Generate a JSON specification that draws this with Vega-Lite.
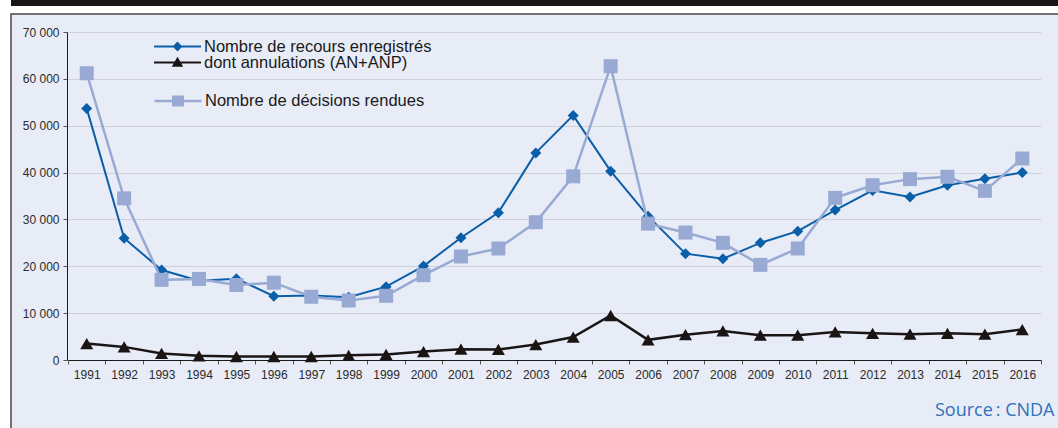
{
  "$schema": "https://vega.github.io/schema/vega-lite/v6.json",
  "background": "white",
  "padding": {"left": 10, "top": 0, "right": 0, "bottom": 0},
  "spacing": 7,
  "config": {"font": "Liberation Sans", "legend": {"labelLimit": 0}},
  "datasets": {
    "d": [
      {"annee": 1991, "serie": "Nombre de recours enregistrés", "valeur": 53700},
      {"annee": 1992, "serie": "Nombre de recours enregistrés", "valeur": 26000},
      {"annee": 1993, "serie": "Nombre de recours enregistrés", "valeur": 19200},
      {"annee": 1994, "serie": "Nombre de recours enregistrés", "valeur": 16900},
      {"annee": 1995, "serie": "Nombre de recours enregistrés", "valeur": 17350},
      {"annee": 1996, "serie": "Nombre de recours enregistrés", "valeur": 13600},
      {"annee": 1997, "serie": "Nombre de recours enregistrés", "valeur": 13750},
      {"annee": 1998, "serie": "Nombre de recours enregistrés", "valeur": 13400},
      {"annee": 1999, "serie": "Nombre de recours enregistrés", "valeur": 15650},
      {"annee": 2000, "serie": "Nombre de recours enregistrés", "valeur": 20050},
      {"annee": 2001, "serie": "Nombre de recours enregistrés", "valeur": 26100},
      {"annee": 2002, "serie": "Nombre de recours enregistrés", "valeur": 31450},
      {"annee": 2003, "serie": "Nombre de recours enregistrés", "valeur": 44200},
      {"annee": 2004, "serie": "Nombre de recours enregistrés", "valeur": 52200},
      {"annee": 2005, "serie": "Nombre de recours enregistrés", "valeur": 40300},
      {"annee": 2006, "serie": "Nombre de recours enregistrés", "valeur": 30700},
      {"annee": 2007, "serie": "Nombre de recours enregistrés", "valeur": 22700},
      {"annee": 2008, "serie": "Nombre de recours enregistrés", "valeur": 21600},
      {"annee": 2009, "serie": "Nombre de recours enregistrés", "valeur": 25000},
      {"annee": 2010, "serie": "Nombre de recours enregistrés", "valeur": 27500},
      {"annee": 2011, "serie": "Nombre de recours enregistrés", "valeur": 32000},
      {"annee": 2012, "serie": "Nombre de recours enregistrés", "valeur": 36200},
      {"annee": 2013, "serie": "Nombre de recours enregistrés", "valeur": 34800},
      {"annee": 2014, "serie": "Nombre de recours enregistrés", "valeur": 37300},
      {"annee": 2015, "serie": "Nombre de recours enregistrés", "valeur": 38700},
      {"annee": 2016, "serie": "Nombre de recours enregistrés", "valeur": 40000},
      {"annee": 1991, "serie": "dont annulations (AN+ANP)", "valeur": 3500},
      {"annee": 1992, "serie": "dont annulations (AN+ANP)", "valeur": 2800},
      {"annee": 1993, "serie": "dont annulations (AN+ANP)", "valeur": 1400},
      {"annee": 1994, "serie": "dont annulations (AN+ANP)", "valeur": 900},
      {"annee": 1995, "serie": "dont annulations (AN+ANP)", "valeur": 750},
      {"annee": 1996, "serie": "dont annulations (AN+ANP)", "valeur": 750},
      {"annee": 1997, "serie": "dont annulations (AN+ANP)", "valeur": 750},
      {"annee": 1998, "serie": "dont annulations (AN+ANP)", "valeur": 1000},
      {"annee": 1999, "serie": "dont annulations (AN+ANP)", "valeur": 1200},
      {"annee": 2000, "serie": "dont annulations (AN+ANP)", "valeur": 1800},
      {"annee": 2001, "serie": "dont annulations (AN+ANP)", "valeur": 2300},
      {"annee": 2002, "serie": "dont annulations (AN+ANP)", "valeur": 2250},
      {"annee": 2003, "serie": "dont annulations (AN+ANP)", "valeur": 3300},
      {"annee": 2004, "serie": "dont annulations (AN+ANP)", "valeur": 4900},
      {"annee": 2005, "serie": "dont annulations (AN+ANP)", "valeur": 9500},
      {"annee": 2006, "serie": "dont annulations (AN+ANP)", "valeur": 4300},
      {"annee": 2007, "serie": "dont annulations (AN+ANP)", "valeur": 5400},
      {"annee": 2008, "serie": "dont annulations (AN+ANP)", "valeur": 6200},
      {"annee": 2009, "serie": "dont annulations (AN+ANP)", "valeur": 5300},
      {"annee": 2010, "serie": "dont annulations (AN+ANP)", "valeur": 5300},
      {"annee": 2011, "serie": "dont annulations (AN+ANP)", "valeur": 6000},
      {"annee": 2012, "serie": "dont annulations (AN+ANP)", "valeur": 5700},
      {"annee": 2013, "serie": "dont annulations (AN+ANP)", "valeur": 5500},
      {"annee": 2014, "serie": "dont annulations (AN+ANP)", "valeur": 5700},
      {"annee": 2015, "serie": "dont annulations (AN+ANP)", "valeur": 5500},
      {"annee": 2016, "serie": "dont annulations (AN+ANP)", "valeur": 6500},
      {"annee": 1991, "serie": "Nombre de décisions rendues", "valeur": 61200},
      {"annee": 1992, "serie": "Nombre de décisions rendues", "valeur": 34500},
      {"annee": 1993, "serie": "Nombre de décisions rendues", "valeur": 17100},
      {"annee": 1994, "serie": "Nombre de décisions rendues", "valeur": 17300},
      {"annee": 1995, "serie": "Nombre de décisions rendues", "valeur": 16000},
      {"annee": 1996, "serie": "Nombre de décisions rendues", "valeur": 16500},
      {"annee": 1997, "serie": "Nombre de décisions rendues", "valeur": 13500},
      {"annee": 1998, "serie": "Nombre de décisions rendues", "valeur": 12700},
      {"annee": 1999, "serie": "Nombre de décisions rendues", "valeur": 13700},
      {"annee": 2000, "serie": "Nombre de décisions rendues", "valeur": 18100},
      {"annee": 2001, "serie": "Nombre de décisions rendues", "valeur": 22100},
      {"annee": 2002, "serie": "Nombre de décisions rendues", "valeur": 23800},
      {"annee": 2003, "serie": "Nombre de décisions rendues", "valeur": 29400},
      {"annee": 2004, "serie": "Nombre de décisions rendues", "valeur": 39200},
      {"annee": 2005, "serie": "Nombre de décisions rendues", "valeur": 62700},
      {"annee": 2006, "serie": "Nombre de décisions rendues", "valeur": 29100},
      {"annee": 2007, "serie": "Nombre de décisions rendues", "valeur": 27200},
      {"annee": 2008, "serie": "Nombre de décisions rendues", "valeur": 25000},
      {"annee": 2009, "serie": "Nombre de décisions rendues", "valeur": 20300},
      {"annee": 2010, "serie": "Nombre de décisions rendues", "valeur": 23800},
      {"annee": 2011, "serie": "Nombre de décisions rendues", "valeur": 34600},
      {"annee": 2012, "serie": "Nombre de décisions rendues", "valeur": 37300},
      {"annee": 2013, "serie": "Nombre de décisions rendues", "valeur": 38600},
      {"annee": 2014, "serie": "Nombre de décisions rendues", "valeur": 39100},
      {"annee": 2015, "serie": "Nombre de décisions rendues", "valeur": 36100},
      {"annee": 2016, "serie": "Nombre de décisions rendues", "valeur": 43000}
    ]
  },
  "vconcat": [
    {
      "width": 1060,
      "height": 6,
      "view": {"fill": "#1b1616", "stroke": null},
      "data": {"values": []},
      "mark": "point"
    },
    {
      "width": 1060,
      "height": 420,
      "view": {"fill": "#e8ecf7", "stroke": "#464646", "strokeWidth": 1.5},
      "data": {"name": "d"},
      "encoding": {
        "x": {
          "field": "annee",
          "type": "ordinal",
          "bandPosition": 0.5,
          "scale": {"type": "band", "range": [57, 1030], "paddingInner": 0, "paddingOuter": 0},
          "axis": {
            "offset": -74,
            "tickBand": "extent",
            "domainColor": "#1a1a1a",
            "domainWidth": 1,
            "tickColor": "#555555",
            "tickSize": 4,
            "labelAngle": 0,
            "labelFontSize": 12,
            "labelColor": "#2b2b2b",
            "labelPadding": 5,
            "grid": false,
            "title": "Source\u2009: CNDA",
            "titleFont": "Open Sans",
            "titleFontSize": 18,
            "titleFontWeight": "normal",
            "titleColor": "#2d72ba",
            "titleAlign": "right",
            "titleBaseline": "alphabetic",
            "titleX": 1043,
            "titleY": 55
          }
        },
        "y": {
          "field": "valeur",
          "type": "quantitative",
          "scale": {"domain": [0, 70000], "range": [346, 18], "nice": false},
          "axis": {
            "offset": -56,
            "values": [0, 10000, 20000, 30000, 40000, 50000, 60000, 70000],
            "labelExpr": "replace(format(datum.value, ','), ',', ' ')",
            "domainColor": "#1a1a1a",
            "domainWidth": 1,
            "tickColor": "#555555",
            "tickSize": 4,
            "labelFontSize": 12,
            "labelColor": "#2b2b2b",
            "labelPadding": 4,
            "grid": true,
            "gridColor": "#cfd2da",
            "gridWidth": 1,
            "title": null
          }
        }
      },
      "layer": [
        {
          "transform": [{"filter": "datum.serie === 'Nombre de recours enregistrés'"}],
          "encoding": {
            "color": {
              "field": "serie",
              "type": "nominal",
              "scale": {"range": ["#0b5ea8"]},
              "legend": {
                "orient": "none",
                "legendX": 142,
                "legendY": 8,
                "title": null,
                "padding": 0,
                "symbolType": "M-1,0H1M0,-0.15L0.15,0L0,0.15L-0.15,0Z",
                "symbolSize": 2209,
                "symbolStrokeWidth": 2,
                "symbolFillColor": "#0b5ea8",
                "symbolStrokeColor": "#0b5ea8",
                "labelFontSize": 16.5,
                "labelColor": "#1a1a1a",
                "labelOffset": 2,
                "encode": {"symbols": {"update": {"fill": {"value": "#0b5ea8"}, "stroke": {"value": "#0b5ea8"}, "opacity": {"value": 1}}}}
              }
            }
          },
          "layer": [
            {"mark": {"type": "line", "strokeWidth": 2}},
            {"mark": {"type": "point", "shape": "diamond", "filled": true, "size": 121, "opacity": 1}}
          ]
        },
        {
          "transform": [{"filter": "datum.serie === 'dont annulations (AN+ANP)'"}],
          "encoding": {
            "color": {
              "field": "serie",
              "type": "nominal",
              "scale": {"range": ["#1a1514"]},
              "legend": {
                "orient": "none",
                "legendX": 142,
                "legendY": 24,
                "title": null,
                "padding": 0,
                "symbolType": "M-1,0H1M-0.17,0.14L0,-0.16L0.17,0.14Z",
                "symbolSize": 2209,
                "symbolStrokeWidth": 2,
                "symbolFillColor": "#1a1514",
                "symbolStrokeColor": "#1a1514",
                "labelFontSize": 16.5,
                "labelColor": "#1a1a1a",
                "labelOffset": 2,
                "encode": {"symbols": {"update": {"fill": {"value": "#1a1514"}, "stroke": {"value": "#1a1514"}, "opacity": {"value": 1}}}}
              }
            }
          },
          "layer": [
            {"mark": {"type": "line", "strokeWidth": 2.5}},
            {"mark": {"type": "point", "shape": "triangle-up", "filled": true, "size": 170, "opacity": 1}}
          ]
        },
        {
          "transform": [{"filter": "datum.serie === 'Nombre de décisions rendues'"}],
          "encoding": {
            "color": {
              "field": "serie",
              "type": "nominal",
              "scale": {"range": ["#98aad4"]},
              "legend": {
                "orient": "none",
                "legendX": 142,
                "legendY": 62,
                "title": null,
                "padding": 0,
                "symbolType": "M-1,0H1M-0.2,-0.18H0.2V0.18H-0.2Z",
                "symbolSize": 2209,
                "symbolStrokeWidth": 2.5,
                "symbolFillColor": "#98aad4",
                "symbolStrokeColor": "#98aad4",
                "labelFontSize": 16.5,
                "labelColor": "#1a1a1a",
                "labelOffset": 2,
                "encode": {"symbols": {"update": {"fill": {"value": "#98aad4"}, "stroke": {"value": "#98aad4"}, "opacity": {"value": 1}}}}
              }
            }
          },
          "layer": [
            {"mark": {"type": "line", "strokeWidth": 2.5}},
            {"mark": {"type": "square", "size": 196, "opacity": 1}}
          ]
        }
      ],
      "resolve": {"scale": {"color": "independent"}}
    }
  ]
}
